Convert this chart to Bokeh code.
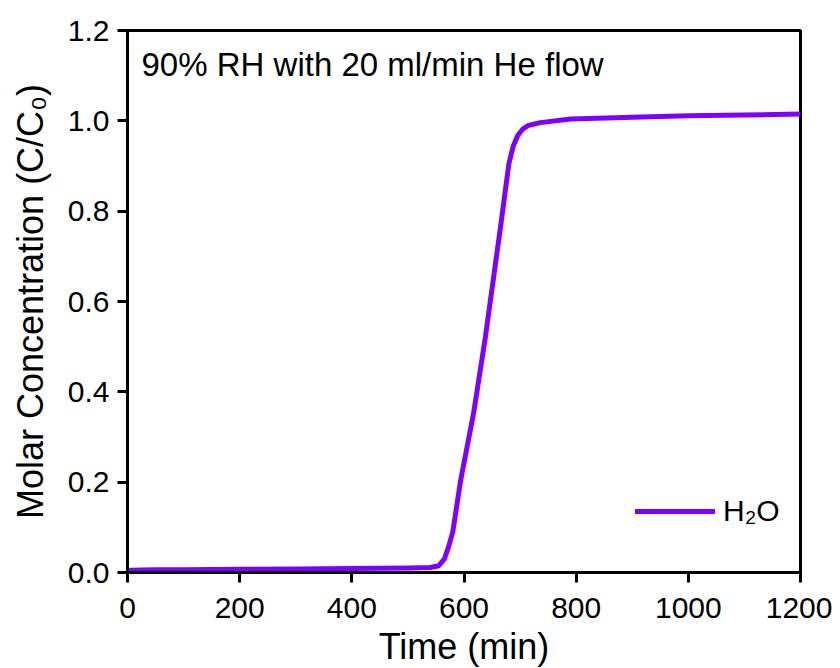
from bokeh.plotting import figure
from bokeh.models import Range1d, Label, Legend, LegendItem, FixedTicker
from bokeh.embed import file_html
from bokeh.resources import INLINE

time_min = [5, 50, 100, 200, 300, 400, 500, 540, 555, 565, 572, 580, 594, 617, 638,
            665, 680, 688, 696, 705, 715, 736, 790, 900, 1000, 1100, 1200]
conc = [0.005, 0.006, 0.006, 0.007, 0.008, 0.009, 0.010, 0.011, 0.015, 0.030, 0.055,
        0.090, 0.204, 0.352, 0.520, 0.764, 0.905, 0.945, 0.968, 0.982, 0.990, 0.996, 1.004,
        1.008, 1.011, 1.013, 1.015]
x_ticks = [0, 200, 400, 600, 800, 1000, 1200]
y_ticks = [0.0, 0.2, 0.4, 0.6, 0.8, 1.0, 1.2]
annotation = "90% RH with 20 ml/min He flow"
series_name = "H\u2082O"

FONT = "Liberation Sans"
COLOR = "#7f00ff"

p = figure(frame_width=673, frame_height=542, output_backend="svg", toolbar_location=None,
           x_range=Range1d(0, 1200), y_range=Range1d(0, 1.2),
           min_border_left=127, min_border_top=30, min_border_right=32, min_border_bottom=94)
p.background_fill_color = "white"
p.border_fill_color = "white"
p.grid.visible = False
p.outline_line_color = "black"
p.outline_line_width = 3

r = p.line(time_min, conc, line_color=COLOR, line_width=5, line_join="round", line_cap="round")

for ax in (p.xaxis[0], p.yaxis[0]):
    ax.axis_line_width = 3
    ax.major_tick_line_width = 3
    ax.major_tick_out = 10
    ax.major_tick_in = 0
    ax.minor_tick_line_color = None
    ax.major_label_text_font = FONT
    ax.major_label_text_font_size = "30px"
    ax.major_label_text_color = "black"
    ax.axis_label_text_font = FONT
    ax.axis_label_text_font_size = "36px"
    ax.axis_label_text_font_style = "normal"
    ax.axis_label_text_color = "black"

p.xaxis.ticker = FixedTicker(ticks=x_ticks)
p.yaxis.ticker = FixedTicker(ticks=y_ticks)
p.xaxis.major_label_overrides = {t: str(t) for t in x_ticks}
p.yaxis.major_label_overrides = {t: f"{t:.1f}" for t in y_ticks}
p.xaxis.axis_label = "Time (min)"
p.yaxis.axis_label = "Molar Concentration (C/C\u2080)"
p.xaxis.major_label_standoff = 15
p.yaxis.major_label_standoff = 8
p.xaxis.axis_label_standoff = 5
p.yaxis.axis_label_standoff = 14

p.add_layout(Label(x=14, y=508, x_units="screen", y_units="screen", text=annotation,
                   text_font=FONT, text_font_size="33px", text_color="black",
                   text_baseline="alphabetic"))

legend = Legend(items=[LegendItem(label=series_name, renderers=[r])],
                location=(508, 44), glyph_width=80, glyph_height=30, label_height=30,
                label_text_font=FONT, label_text_font_size="30px", label_text_color="black",
                label_standoff=8, border_line_color=None, background_fill_alpha=0,
                padding=0, margin=0)
p.add_layout(legend)

open("out.html", "w").write(file_html(p, INLINE))
